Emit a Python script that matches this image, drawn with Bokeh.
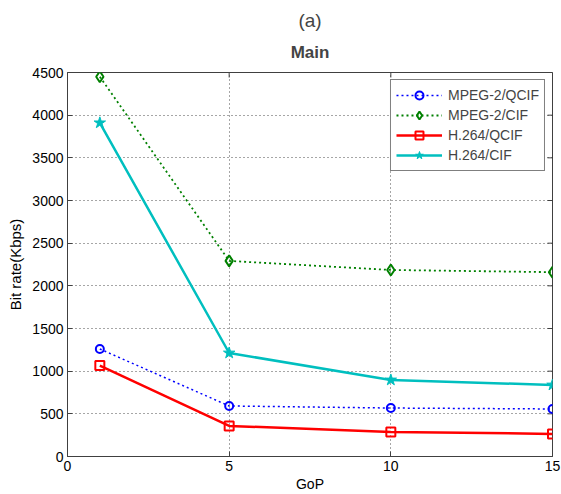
from bokeh.plotting import figure
from bokeh.models import Range1d, Title, Legend, LegendItem, FixedTicker
from bokeh.embed import file_html
from bokeh.resources import INLINE
import math

gop = [1, 5, 10, 15]
mpeg2_qcif = [1260, 592, 568, 557]
mpeg2_cif = [4450, 2292, 2186, 2160]
h264_qcif = [1065, 358, 288, 265]
h264_cif = [3910, 1213, 897, 838]
x_ticks = [0, 5, 10, 15]
y_ticks = [0, 500, 1000, 1500, 2000, 2500, 3000, 3500, 4000, 4500]
x_min, x_max = 0, 15
y_min, y_max = 0, 4500

FONT = "Liberation Sans"
AXC = "#404040"

p = figure(width=561, height=494, output_backend="svg", toolbar_location=None,
           x_range=Range1d(x_min, x_max), y_range=Range1d(y_min, y_max),
           min_border_left=67, min_border_right=9, min_border_top=72, min_border_bottom=38,
           x_axis_label="GoP", y_axis_label="Bit rate(Kbps)", title_location=None)

p.add_layout(Title(text="Main", align="center", text_font=FONT, text_font_size="17px",
                   text_font_style="bold", standoff=21), "above")
p.add_layout(Title(text="(a)", align="center", text_font=FONT, text_font_size="19px",
                   text_font_style="normal", standoff=0), "above")

p.outline_line_color = AXC
p.outline_line_width = 1
p.background_fill_color = "white"
p.border_fill_color = "white"

for ax in (p.xaxis[0], p.yaxis[0]):
    ax.major_label_text_font = FONT
    ax.major_label_text_font_size = "14px"
    ax.major_label_text_color = "black"
    ax.axis_label_text_font = FONT
    ax.axis_label_text_font_style = "normal"
    ax.axis_label_text_font_size = "14px"
    ax.axis_label_text_color = "black"
    ax.axis_line_color = AXC
    ax.major_tick_in = 5
    ax.major_tick_out = 0
    ax.minor_tick_line_color = None
    ax.major_tick_line_color = AXC
    ax.major_label_standoff = 4

p.xaxis.ticker = FixedTicker(ticks=x_ticks)
p.yaxis.ticker = FixedTicker(ticks=y_ticks)
p.xaxis.axis_label_standoff = 2
p.xaxis.major_label_standoff = 4
p.yaxis.axis_label_standoff = 5
p.yaxis.axis_label_text_font_size = "15px"

# inward ticks on the top and right edges of the box
p.scatter(x_ticks, [y_max] * len(x_ticks), marker="dash", size=10, angle=math.pi / 2,
          line_color=AXC, line_width=1)
p.scatter([x_max] * len(y_ticks), y_ticks, marker="dash", size=10, angle=0,
          line_color=AXC, line_width=1)

p.grid.grid_line_color = "black"
p.grid.grid_line_alpha = 0.7
p.grid.grid_line_dash = "1 3"
p.grid.grid_line_width = 1

l1 = p.line(gop, mpeg2_qcif, line_color="#0000ff", line_width=1.5, line_dash="2 3")
m1 = p.scatter(gop, mpeg2_qcif, marker="circle", size=8, fill_color=None,
               line_color="#0000ff", line_width=2)
l2 = p.line(gop, mpeg2_cif, line_color="#008000", line_width=1.8, line_dash="2 3")
m2 = p.scatter(gop, mpeg2_cif, marker="diamond", size=11, fill_color=None,
               line_color="#008000", line_width=2)
l3 = p.line(gop, h264_qcif, line_color="#ff0000", line_width=2.5)
m3 = p.scatter(gop, h264_qcif, marker="square", size=9, fill_color=None,
               line_color="#ff0000", line_width=2)
l4 = p.line(gop, h264_cif, line_color="#00bfbf", line_width=2.5)
m4 = p.scatter(gop, h264_cif, marker="star", size=12, fill_color="#00bfbf",
               line_color="#00bfbf", line_width=1)

legend = Legend(items=[
    LegendItem(label="MPEG-2/QCIF", renderers=[l1, m1]),
    LegendItem(label="MPEG-2/CIF", renderers=[l2, m2]),
    LegendItem(label="H.264/QCIF", renderers=[l3, m3]),
    LegendItem(label="H.264/CIF", renderers=[l4, m4]),
], location="top_right")
legend.margin = 7
legend.padding = 5
legend.spacing = 0
legend.glyph_width = 46
legend.glyph_height = 20
legend.label_height = 20
legend.label_standoff = 6
legend.label_text_font = FONT
legend.label_text_font_size = "14px"
legend.border_line_color = "black"
legend.border_line_width = 1
legend.background_fill_color = "white"
legend.background_fill_alpha = 1
p.add_layout(legend, "center")

open("out.html", "w").write(file_html(p, INLINE))
